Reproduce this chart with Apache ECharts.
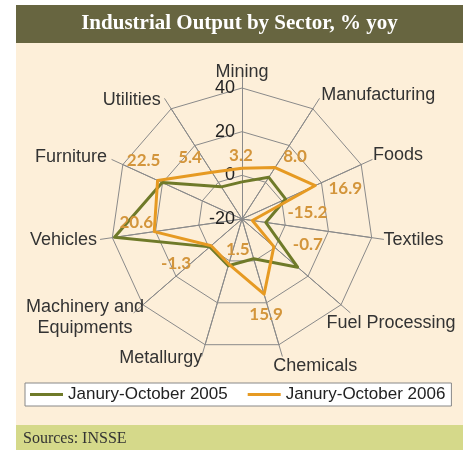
<!DOCTYPE html>
<html><head><meta charset="utf-8">
<script src="https://cdn.jsdelivr.net/npm/echarts@6/dist/echarts.min.js"></script>
<style>html,body{margin:0;padding:0;background:#fff}#c{width:467px;height:450px}</style>
</head><body><div id="c"></div>
<script>
const sectors = ['Mining','Manufacturing','Foods','Textiles','Fuel Processing','Chemicals','Metallurgy','Machinery and\nEquipments','Vehicles','Furniture','Utilities'];
const series2005 = [-3, 2.7, 2, -9, 13.7, -1, 2.3, -0.5, 39, 20.2, -2.5];
const series2006 = [3.2, 8.0, 16.9, -15.2, -0.7, 15.9, 1.5, -1.3, 20.6, 22.5, 5.4];
const seriesNames = ['Janury-October 2005', 'Janury-October 2006'];
const axisMin = -20, axisMax = 40;
const titleText = 'Industrial Output by Sector, % yoy';
const sourceText = 'Sources: INSSE';

// style: label offsets per sector (px)
const labelOffsets = [[-1,-13],[20,-11],[30,3],[55,-8],[34,-2],[2,20],[9,-15],[-35,18],[-18,-9],[-14,-20],[-22,-15]];
const nameOffsets = [[0,-4],[59,-4],[26,-5],[30,1],[41,10],[33,10],[-41,2],[-49,5],[-37,1],[-41,-3],[-33,1]];
const GREEN = '#6f7a29', ORANGE = '#e69a22', LABEL = '#d3953b', GRID = '#8a8a8a';

// ECharts radar places indicators counter-clockwise; reorder so the chart reads clockwise
const order = [0,10,9,8,7,6,5,4,3,2,1];
const reorder = arr => order.map(i => arr[i]);

const indicators = reorder(sectors).map((n, i) => {
  const o = { name: n, min: axisMin, max: axisMax };
  if (i === 0) o.axisLabel = { show: true };
  return o;
});
const outerIndicators = reorder(sectors).map(n => ({ name: n, min: axisMin, max: axisMax }));

const chart = echarts.init(document.getElementById('c'), null, { renderer: 'canvas' });
chart.setOption({
  animation: false,
  backgroundColor: '#ffffff',
  textStyle: { fontFamily: 'Liberation Sans' },
  graphic: [
    { type: 'rect', shape: { x: 16, y: 5, width: 447, height: 38 }, style: { fill: '#676540' }, z: -10 },
    { type: 'rect', shape: { x: 16, y: 43, width: 447, height: 382 }, style: { fill: '#fdefd9' }, z: -10 },
    { type: 'rect', shape: { x: 16, y: 425, width: 447, height: 25 }, style: { fill: '#d5d98a' }, z: -10 },
    { type: 'text', x: 239.5, y: 24, style: { text: titleText, fill: '#ffffff', font: 'bold 21px "Liberation Serif"', textAlign: 'center', textVerticalAlign: 'middle' }, z: 5 },
    { type: 'text', x: 23, y: 439, style: { text: sourceText, fill: '#333333', font: '16px "Liberation Serif"', textAlign: 'left', textVerticalAlign: 'middle' }, z: 5 }
  ],
  legend: {
    data: seriesNames,
    left: 25, top: 383,
    backgroundColor: '#ffffff',
    borderColor: '#888', borderWidth: 1,
    padding: [3, 6, 3, 5],
    itemWidth: 33, itemHeight: 3, itemGap: 20,
    icon: 'rect',
    textStyle: { fontSize: 17, color: '#222' }
  },
  radar: [
    {
      center: [242, 219], radius: 131,
      indicator: indicators,
      splitNumber: 3,
      shape: 'polygon',
      axisName: { show: false },
      axisLine: { lineStyle: { color: GRID, width: 1 } },
      splitLine: { lineStyle: { color: GRID, width: 1 } },
      splitArea: { show: false },
      axisTick: { show: false },
      axisLabel: { show: false, color: '#222', fontSize: 18, margin: 7 }
    },
    {
      center: [242, 219], radius: 143,
      indicator: outerIndicators,
      splitNumber: 1,
      shape: 'polygon',
      axisName: { show: false },
      axisLine: { lineStyle: { color: GRID, width: 1 } },
      splitLine: { show: false },
      splitArea: { show: false },
      axisTick: { show: false },
      axisLabel: { show: false }
    }
  ],
  series: [
    {
      type: 'radar', radarIndex: 0, name: seriesNames[0],
      symbol: 'none',
      itemStyle: { color: GREEN },
      lineStyle: { color: GREEN, width: 3 },
      data: [{ name: seriesNames[0], value: reorder(series2005) }],
      z: 3
    },
    {
      type: 'radar', radarIndex: 0, name: seriesNames[1],
      symbol: 'none',
      itemStyle: { color: ORANGE },
      lineStyle: { color: ORANGE, width: 3 },
      data: [{ name: seriesNames[1], value: reorder(series2006) }],
      z: 4
    },
    {
      type: 'radar', radarIndex: 0, name: 'labels', silent: true,
      symbol: 'circle', symbolSize: 1,
      itemStyle: { color: 'rgba(0,0,0,0)' },
      lineStyle: { width: 0, opacity: 0 },
      label: {
        show: true, position: 'inside',
        color: LABEL, fontFamily: 'Lato', fontWeight: 'bold', fontSize: 17,
        formatter: p => (p.value === series2006[p.dataIndex] ? p.value.toFixed(1) : '')
      },
      data: sectors.map((s, k) => ({ name: s, value: reorder(series2006), label: { offset: labelOffsets[k] } })),
      z: 5
    },
    {
      // axis (sector) names at the tips of the outer axes
      type: 'radar', radarIndex: 1, name: 'sectorNames', silent: true,
      symbol: 'circle', symbolSize: 1,
      itemStyle: { color: 'rgba(0,0,0,0)' },
      lineStyle: { width: 0, opacity: 0 },
      label: {
        show: true, position: 'inside',
        color: '#333', fontFamily: 'Liberation Sans', fontSize: 18, lineHeight: 21, align: 'center',
        formatter: p => (p.value === axisMax ? sectors[p.dataIndex] : '')
      },
      data: sectors.map((s, k) => ({
        name: s,
        value: reorder(sectors.map((_, j) => (j === k ? axisMax : axisMin))),
        label: { offset: nameOffsets[k] }
      })),
      z: 5
    }
  ]
});
</script></body></html>
